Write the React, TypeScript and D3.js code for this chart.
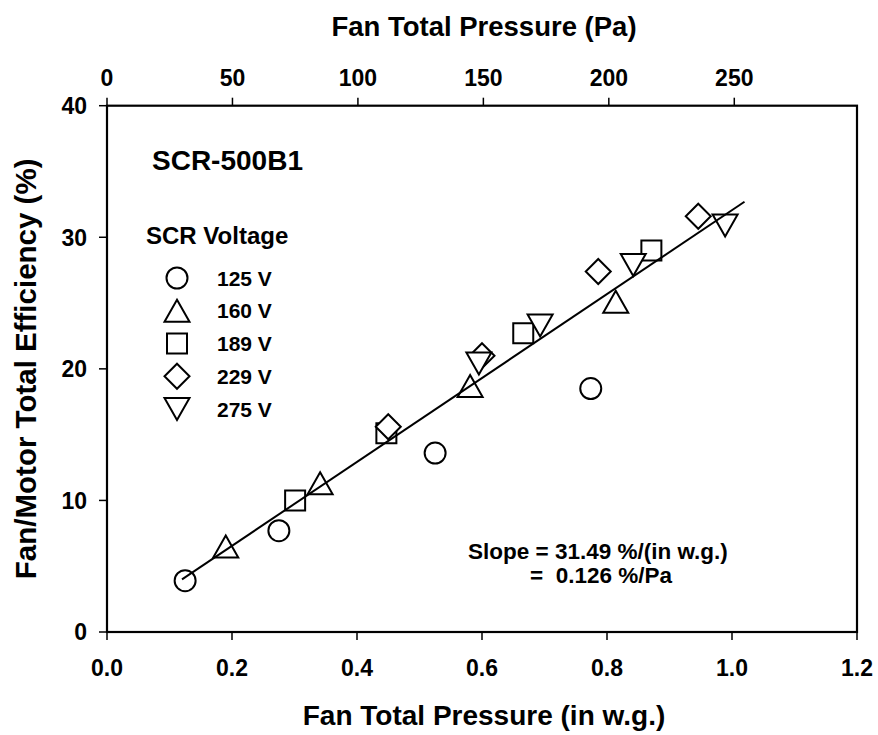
import React from "react";
import * as d3 from "d3";

// ---- data ----
const p125 = [0.125, 0.275, 0.525, 0.774];
const e125 = [3.9, 7.7, 13.6, 18.5];
const p160 = [0.19, 0.341, 0.581, 0.814];
const e160 = [6.5, 11.3, 18.7, 25.1];
const p189 = [0.301, 0.447, 0.666, 0.871];
const e189 = [10.0, 15.1, 22.7, 29.0];
const p229 = [0.45, 0.6, 0.786, 0.946];
const e229 = [15.6, 21.0, 27.4, 31.6];
const p275 = [0.595, 0.693, 0.842, 0.989];
const e275 = [20.4, 23.3, 27.9, 30.9];

const fitP = [0.12, 1.02];
const fitE = [4.0, 32.7];

const xTicks = [0, 0.2, 0.4, 0.6, 0.8, 1.0, 1.2];
const paTicks = [0, 50, 100, 150, 200, 250];
const yTicks = [0, 10, 20, 30, 40];

const seriesNames = ["125 V", "160 V", "189 V", "229 V", "275 V"];
const seriesShapes = ["circle", "triUp", "square", "diamond", "triDown"];
const PA_PER_INWG = 249.09;

const W = 878;
const H = 735;
const L = 107, R = 857, T = 105.7, B = 632;

const FONT = "'Liberation Sans', Arial, Helvetica, sans-serif";

function markerPath(shape: string, cx: number, cy: number): string {
  switch (shape) {
    case "triUp": {
      const w = 12.5, h = 11;
      return `M${cx},${cy - h}L${cx + w},${cy + h}L${cx - w},${cy + h}Z`;
    }
    case "triDown": {
      const w = 12.5, h = 11;
      return `M${cx - w},${cy - h}L${cx + w},${cy - h}L${cx},${cy + h}Z`;
    }
    case "square": {
      const s = 10;
      return `M${cx - s},${cy - s}H${cx + s}V${cy + s}H${cx - s}Z`;
    }
    case "diamond": {
      const d = 12.5;
      return `M${cx},${cy - d}L${cx + d},${cy}L${cx},${cy + d}L${cx - d},${cy}Z`;
    }
    default:
      return "";
  }
}

function Marker({ shape, cx, cy }: { shape: string; cx: number; cy: number }) {
  if (shape === "circle") {
    return <circle cx={cx} cy={cy} r={10.5} fill="white" stroke="#000" strokeWidth={2} />;
  }
  return <path d={markerPath(shape, cx, cy)} fill="white" stroke="#000" strokeWidth={2} strokeLinejoin="miter" />;
}

export default function App() {
  const x = d3.scaleLinear().domain([0, 1.2]).range([L, R]);
  const xPa = d3.scaleLinear().domain([0, 1.2 * PA_PER_INWG]).range([L, R]);
  const y = d3.scaleLinear().domain([0, 40]).range([B, T]);

  const series = [
    [p125, e125],
    [p160, e160],
    [p189, e189],
    [p229, e229],
    [p275, e275],
  ];

  const line = d3
    .line<number>()
    .x((_, i) => x(fitP[i]))
    .y((d) => y(d));

  const legendY = d3.scalePoint<string>().domain(seriesNames).range([278, 409]);

  return (
    <svg width={W} height={H} style={{ position: "absolute", left: 0, top: 0, background: "white" }} fontFamily={FONT} fontWeight="bold">
      <rect x={0} y={0} width={W} height={H} fill="white" />

      {/* markers */}
      {series.map(([ps, es], si) =>
        ps.map((p, i) => <Marker key={`${si}-${i}`} shape={seriesShapes[si]} cx={x(p)} cy={y(es[i])} />)
      )}

      {/* fit line */}
      <path d={line(fitE) || ""} fill="none" stroke="#000" strokeWidth={2} />

      {/* frame */}
      <rect x={L} y={T} width={R - L} height={B - T} fill="none" stroke="#000" strokeWidth={2.2} />

      {/* bottom axis */}
      {xTicks.map((t) => (
        <g key={`xb${t}`}>
          <line x1={x(t)} x2={x(t)} y1={B} y2={B + 8} stroke="#000" strokeWidth={1.5} />
          <text x={x(t)} y={676} textAnchor="middle" fontSize={23}>
            {d3.format(".1f")(t)}
          </text>
        </g>
      ))}

      {/* top axis (Pa) */}
      {paTicks.map((t) => (
        <g key={`xt${t}`}>
          <line x1={xPa(t)} x2={xPa(t)} y1={T} y2={T - 8} stroke="#000" strokeWidth={1.5} />
          <text x={xPa(t)} y={86} textAnchor="middle" fontSize={23}>
            {t}
          </text>
        </g>
      ))}

      {/* left axis */}
      {yTicks.map((t) => (
        <g key={`y${t}`}>
          <line x1={L - 8} x2={L} y1={y(t)} y2={y(t)} stroke="#000" strokeWidth={1.5} />
          <text x={87} y={y(t)} dy="0.36em" textAnchor="end" fontSize={23}>
            {t}
          </text>
        </g>
      ))}

      {/* axis titles */}
      <text x={484} y={725} textAnchor="middle" fontSize={28}>
        Fan Total Pressure (in w.g.)
      </text>
      <text x={484} y={36} textAnchor="middle" fontSize={27.5}>
        Fan Total Pressure (Pa)
      </text>
      <text transform={`translate(36, ${(T + B) / 2}) rotate(-90)`} textAnchor="middle" fontSize={29.5}>
        Fan/Motor Total Efficiency (%)
      </text>

      {/* annotations */}
      <text x={152} y={170} fontSize={28}>
        SCR-500B1
      </text>
      <text x={146} y={244} fontSize={24}>
        SCR Voltage
      </text>
      {seriesNames.map((n, i) => (
        <g key={n}>
          <Marker shape={seriesShapes[i]} cx={177} cy={legendY(n) as number} />
          <text x={217} y={legendY(n) as number} dy="0.36em" fontSize={21}>
            {n}
          </text>
        </g>
      ))}

      <text x={468} y={559} fontSize={22.5}>
        Slope = 31.49 %/(in w.g.)
      </text>
      <text x={530} y={583} fontSize={22.5} style={{ whiteSpace: "pre" }}>
        {"=  0.126 %/Pa"}
      </text>
    </svg>
  );
}
